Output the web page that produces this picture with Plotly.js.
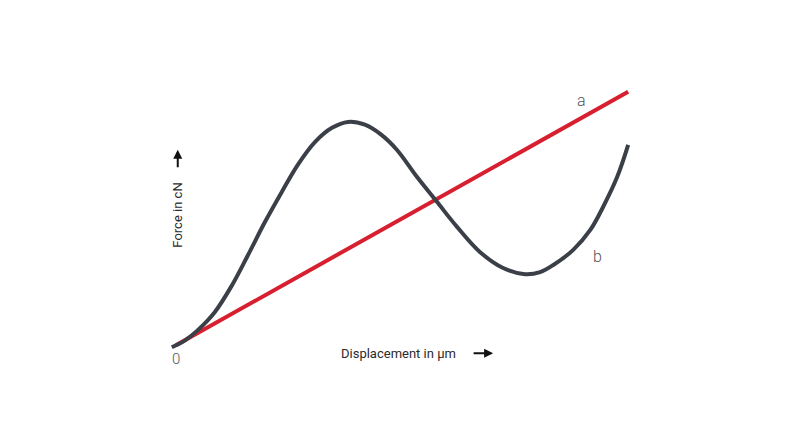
<!DOCTYPE html>
<html>
<head>
<meta charset="utf-8">
<script src="https://cdn.plot.ly/plotly-3.0.1.min.js"></script>
<style>
  html, body { margin: 0; padding: 0; background: #fff; }
  #myDiv { width: 796px; height: 432px; }
</style>
</head>
<body>
<div id="myDiv"></div>
<script>
// curve b (force vs displacement, arbitrary units)
var bX = [0, 0.29, 0.57, 0.94, 1.32, 1.67, 2.04, 2.41, 2.76, 3.14, 3.51, 3.86, 4.23, 4.58, 4.93, 5.37, 5.81, 6.25, 6.75, 7.26, 7.74, 8.07, 8.36, 8.79, 9.17, 9.45, 9.76, 10];
var bY = [0, 0.27, 0.67, 1.37, 2.43, 3.61, 4.90, 6.08, 7.14, 8.04, 8.59, 8.82, 8.71, 8.33, 7.73, 6.67, 5.69, 4.71, 3.73, 3.10, 2.86, 2.94, 3.22, 3.80, 4.59, 5.49, 6.67, 7.92];

// line a
var aX = [0.09, 10];
var aY = [0.08, 10];

var labelFont = { family: 'Roboto', size: 13, color: '#2b2b2b' };

var traceB = {
  x: bX,
  y: bY,
  mode: 'lines',
  type: 'scatter',
  name: 'b',
  line: { color: '#3a3f48', width: 4, shape: 'spline', smoothing: 1 },
  hoverinfo: 'skip'
};

var traceA = {
  x: aX,
  y: aY,
  mode: 'lines',
  type: 'scatter',
  name: 'a',
  line: { color: '#d81f30', width: 4 },
  hoverinfo: 'skip'
};

var layout = {
  width: 796,
  height: 432,
  margin: { l: 149.2, r: 145.2, t: 79.25, b: 72.25, pad: 0 },
  paper_bgcolor: '#fff',
  plot_bgcolor: '#fff',
  showlegend: false,
  xaxis: { range: [-0.5, 10.5], visible: false, fixedrange: true },
  yaxis: { range: [-0.5, 10.5], visible: false, fixedrange: true },
  annotations: [
    {
      x: 4.96, y: -0.235, xref: 'x', yref: 'y',
      text: 'Displacement in µm', showarrow: false,
      font: labelFont
    },
    {
      // arrow after x label
      x: 7.04, y: -0.235, xref: 'x', yref: 'y',
      ax: -21, ay: 0, text: '', showarrow: true,
      arrowhead: 2, arrowsize: 0.9, arrowwidth: 2, arrowcolor: '#111'
    },
    {
      x: 0.13, y: 5.18, xref: 'x', yref: 'y',
      text: 'Force in cN', showarrow: false, textangle: -90,
      font: labelFont
    },
    {
      // arrow above y label
      x: 0.13, y: 7.73, xref: 'x', yref: 'y',
      ax: 0, ay: 19, text: '', showarrow: true,
      arrowhead: 2, arrowsize: 0.9, arrowwidth: 2, arrowcolor: '#111'
    },
    {
      x: 0.09, y: -0.47, xref: 'x', yref: 'y',
      text: '0', showarrow: false,
      font: { family: 'Roboto', size: 15, color: '#555', weight: 300 }
    },
    {
      x: 8.97, y: 9.65, xref: 'x', yref: 'y',
      text: 'a', showarrow: false,
      font: { family: 'Roboto', size: 16, color: '#555', weight: 300 }
    },
    {
      x: 9.32, y: 3.57, xref: 'x', yref: 'y',
      text: 'b', showarrow: false,
      font: { family: 'Roboto', size: 16, color: '#555', weight: 300 }
    }
  ]
};

Plotly.newPlot('myDiv', [traceA, traceB], layout, { displayModeBar: false, staticPlot: true });
</script>
</body>
</html>
